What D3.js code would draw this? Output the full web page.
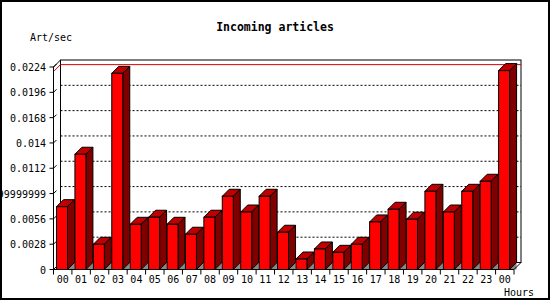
<!DOCTYPE html>
<html>
<head>
<meta charset="utf-8">
<script src="https://cdn.jsdelivr.net/npm/d3@7"></script>
<style>
  body { margin: 0; background: #fff; }
  svg { display: block; }
  text { font-family: "DejaVu Sans Mono", monospace; font-size: 10px; fill: #000; }
</style>
</head>
<body>
<div class="chart"></div>
<script>
// hours of the day (the last one wraps round to 00 again)
var hours = ['00','01','02','03','04','05','06','07','08','09','10','11',
             '12','13','14','15','16','17','18','19','20','21','22','23','00'];

// articles per second
var rates = [0.00695, 0.01275, 0.00279, 0.0217, 0.0050, 0.00578, 0.0050, 0.0039,
             0.00578, 0.0081, 0.00636, 0.0081, 0.00412, 0.00116, 0.00227, 0.0019,
             0.00279, 0.00526, 0.00666, 0.00556, 0.00865, 0.00636, 0.00865, 0.00976, 0.0220];

var yTicks = [0, 0.0028, 0.0056, 0.0028 * 3, 0.0112, 0.014, 0.0168, 0.0196, 0.0224];
var yTickLabels = ['0', '0.0028', '0.0056', '0.008399999999999999', '0.0112', '0.014', '0.0168', '0.0196', '0.0224'];

var width = 550, height = 300;
var depth = 7;          // 3d offset of the back wall
var barW = 11;

var svg = d3.select('.chart').append('svg')
    .attr('width', width)
    .attr('height', height);

var x = d3.scaleBand()
    .domain(d3.range(hours.length))
    .range([53.5, 514]);

var y = d3.scaleLinear()
    .domain([0, 0.0224])
    .range([269.5, 67]);

var x0 = x.range()[0], x1 = x.range()[1];
var y0 = y(0), yTop = y(0.0224);

// outer border
svg.append('rect')
    .attr('x', 1).attr('y', 1)
    .attr('width', width - 2).attr('height', height - 2)
    .attr('fill', 'none').attr('stroke', '#000').attr('stroke-width', 2);

// title and axis names
svg.append('text')
    .attr('x', 275).attr('y', 31)
    .attr('text-anchor', 'middle')
    .style('font-weight', 'bold').style('font-size', '11.5px')
    .text('Incoming articles');

svg.append('text').attr('x', 30).attr('y', 41).text('Art/sec');
svg.append('text').attr('x', 504).attr('y', 296).text('Hours');

// back wall
svg.append('rect')
    .attr('x', x0 + depth).attr('y', yTop - depth)
    .attr('width', x1 - x0).attr('height', y0 - yTop)
    .attr('fill', '#fff').attr('stroke', '#000');

// dotted grid on the back wall
svg.selectAll('line.grid')
    .data(yTicks.slice(1, -1))
  .enter().append('line')
    .attr('class', 'grid')
    .attr('x1', x0 + depth).attr('x2', x1 + depth)
    .attr('y1', (d) => y(d) - depth).attr('y2', (d) => y(d) - depth)
    .attr('stroke', '#000').attr('stroke-dasharray', '2,2');

// red line at the maximum
var maxY = y(d3.max(rates));
svg.append('path')
    .attr('d', `M ${x0} ${maxY + 1} L ${x0 + depth} ${maxY - depth + 1} L ${x1 + depth} ${maxY - depth + 1}`)
    .attr('fill', 'none').attr('stroke', '#e00000');

// y ticks and labels
var yt = svg.selectAll('g.ytick')
    .data(yTicks)
  .enter().append('g')
    .attr('class', 'ytick');

yt.append('path')
    .attr('d', (d) => `M ${x0 - 4} ${y(d)} L ${x0} ${y(d)} L ${x0 + 3} ${y(d) - 3}`)
    .attr('fill', 'none').attr('stroke', '#000');

yt.append('text')
    .attr('x', 46).attr('y', (d) => y(d) + 4)
    .attr('text-anchor', 'end')
    .text((d, i) => yTickLabels[i]);

// bars
var bars = svg.selectAll('g.bar')
    .data(rates)
  .enter().append('g')
    .attr('class', 'bar');

var left = (d, i) => x(i) + 3;

// floor shadow
bars.append('path')
    .attr('d', (d, i) => {
      var r = left(d, i) + barW;
      return `M ${r} ${y0} L ${r + depth} ${y0 - depth} L ${r + depth} ${y0} Z`;
    })
    .attr('fill', '#888');

// top face
bars.append('path')
    .attr('d', (d, i) => {
      var l = left(d, i), t = y(d);
      return `M ${l} ${t} L ${l + depth} ${t - depth} L ${l + barW + depth} ${t - depth} L ${l + barW} ${t} Z`;
    })
    .attr('fill', '#c00000').attr('stroke', '#000');

// side face
bars.append('path')
    .attr('d', (d, i) => {
      var r = left(d, i) + barW, t = y(d);
      return `M ${r} ${t} L ${r + depth} ${t - depth} L ${r + depth} ${y0 - depth} L ${r} ${y0} Z`;
    })
    .attr('fill', '#800000').attr('stroke', '#000');

// front face
bars.append('rect')
    .attr('x', left)
    .attr('y', (d) => y(d))
    .attr('width', barW)
    .attr('height', (d) => y0 - y(d))
    .attr('fill', '#ff0000').attr('stroke', '#000');

// front axes
svg.append('path')
    .attr('d', `M ${x0 + depth} ${yTop - depth} L ${x0} ${yTop} L ${x0} ${y0} L ${x1} ${y0} L ${x1 + depth} ${y0 - depth}`)
    .attr('fill', 'none').attr('stroke', '#000');

// x ticks at band boundaries
svg.selectAll('line.xtick')
    .data(d3.range(hours.length + 1))
  .enter().append('line')
    .attr('class', 'xtick')
    .attr('x1', (i) => x0 + i * x.step()).attr('x2', (i) => x0 + i * x.step())
    .attr('y1', y0).attr('y2', y0 + 5)
    .attr('stroke', '#000');

svg.selectAll('text.xlabel')
    .data(hours)
  .enter().append('text')
    .attr('class', 'xlabel')
    .attr('x', (d, i) => x(i) + x.bandwidth() / 2)
    .attr('y', 283)
    .attr('text-anchor', 'middle')
    .text((d) => d);
</script>
</body>
</html>
